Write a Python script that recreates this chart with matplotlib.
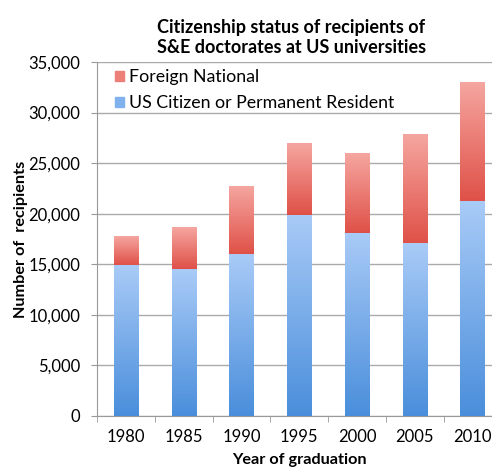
import numpy as np
import matplotlib.pyplot as plt
from matplotlib.colors import LinearSegmentedColormap
from matplotlib.patches import Patch

plt.rcParams['font.family'] = ['Lato', 'DejaVu Sans']

# Data
years = ['1980', '1985', '1990', '1995', '2000', '2005', '2010']
us_citizen = [14900, 14500, 16000, 19900, 18100, 17100, 21300]
foreign = [2800, 4100, 6700, 7100, 7900, 10700, 11700]

blue_cmap = LinearSegmentedColormap.from_list('b', ['#4a8edb', '#a9cbf7'])
red_cmap = LinearSegmentedColormap.from_list('r', ['#df5148', '#f5a6a0'])

fig = plt.figure(figsize=(4.92, 4.76), dpi=100)
ax = fig.add_axes([97 / 492, 60 / 476, 404.5 / 492, 354 / 476])

x = np.arange(len(years))
bar_width = 0.42

bars1 = ax.bar(x, us_citizen, bar_width, color='none', zorder=3)
bars2 = ax.bar(x, foreign, bar_width, bottom=us_citizen, color='none', zorder=3)

# vertical gradient fill for each bar
grad = np.linspace(0, 1, 256).reshape(-1, 1)
for bars, cmap in [(bars1, blue_cmap), (bars2, red_cmap)]:
    for b in bars:
        x0, y0 = b.get_x(), b.get_y()
        ax.imshow(grad, cmap=cmap, origin='lower', aspect='auto', zorder=3,
                  extent=[x0, x0 + b.get_width(), y0, y0 + b.get_height()])

ax.set_xlim(-0.5, len(years) - 0.5)
ax.set_ylim(0, 35000)
ax.set_yticks(np.arange(0, 35001, 5000))
ax.set_yticklabels([f'{v:,}' for v in range(0, 35001, 5000)], fontsize=12)
ax.set_xticks(x)
ax.set_xticklabels(years, fontsize=12)
ax.set_xticks(np.arange(-0.5, len(years)), minor=True)
ax.tick_params(axis='x', which='major', length=0, pad=9)
ax.tick_params(axis='x', which='minor', length=4, color='#999999')
ax.tick_params(axis='y', length=4, color='#999999', pad=8)

ax.yaxis.grid(True, color='#aaaaaa', linewidth=1, zorder=0)
ax.set_axisbelow(True)
for s in ['top', 'right']:
    ax.spines[s].set_visible(False)
for s in ['left', 'bottom']:
    ax.spines[s].set_color('#999999')

ax.set_xlabel('Year of graduation', fontsize=11.7, fontweight='bold', labelpad=6)
ax.set_ylabel('Number of  recipients', fontsize=11.7, fontweight='bold', labelpad=0)

fig.text(0.592, 0.96, 'Citizenship status of recipients of\nS&E doctorates at US universities',
         ha='center', va='top', fontsize=13, fontweight='bold', linespacing=1.2)

handles = [Patch(color='#ec7f77'), Patch(color='#7fb2ec')]
ax.legend(handles, ['Foreign National', 'US Citizen or Permanent Resident'],
          loc='upper left', bbox_to_anchor=(0.005, 1.025), frameon=False,
          fontsize=12.8, handlelength=0.5, handleheight=0.5, handletextpad=0.3,
          labelspacing=0.55)

fig.savefig('out.png', dpi=100)
